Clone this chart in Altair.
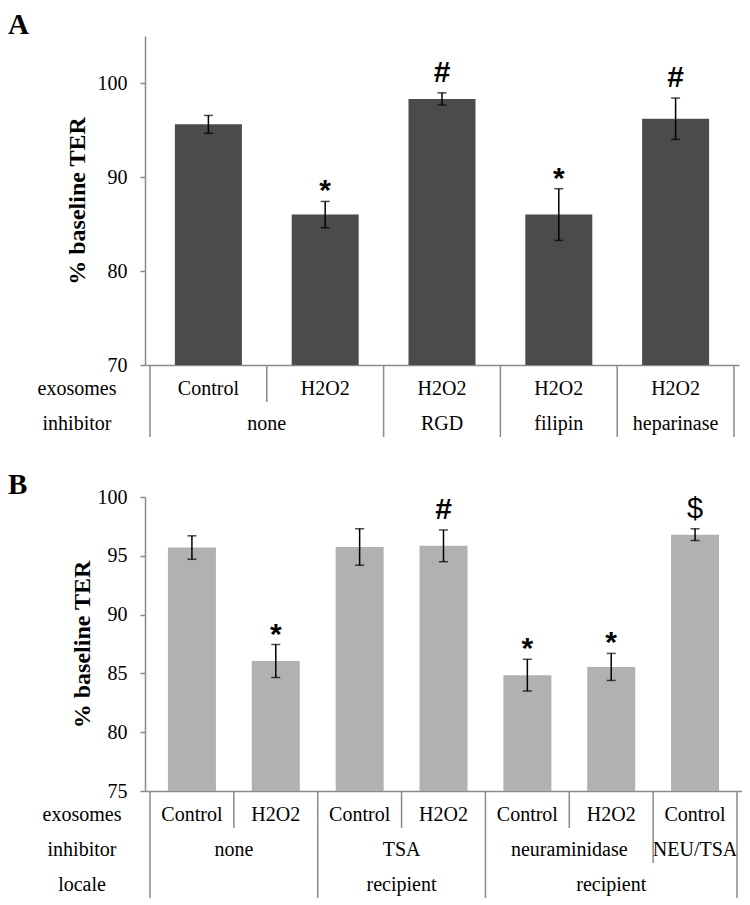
import altair as alt
import pandas as pd

# ---------------- Panel A data ----------------
a_exosomes = ["Control", "H2O2", "H2O2", "H2O2", "H2O2"]
a_ter = [95.6, 86.0, 98.3, 86.0, 96.2]
a_err = [0.95, 1.4, 0.65, 2.75, 2.2]
a_sig = ["", "*", "#", "*", "#"]
a_inhibitor = ["none", "RGD", "filipin", "heparinase"]
a_inhibitor_span = [2, 1, 1, 1]
a_yticks = [70, 80, 90, 100]

# ---------------- Panel B data ----------------
b_exosomes = ["Control", "H2O2", "Control", "H2O2", "Control", "H2O2", "Control"]
b_ter = [95.7, 86.05, 95.75, 95.85, 84.85, 85.55, 96.8]
b_err = [1.0, 1.4, 1.55, 1.35, 1.35, 1.15, 0.5]
b_sig = ["", "*", "", "#", "*", "*", "$"]
b_inhibitor = ["none", "TSA", "neuraminidase", "NEU/TSA"]
b_inhibitor_span = [2, 2, 2, 1]
b_locale = ["", "recipient", "recipient"]
b_locale_span = [2, 2, 3]
b_yticks = [75, 80, 85, 90, 95, 100]

SERIF = "Liberation Serif"
GRAY = "#8a8a8a"
ROW_H = 35
SYMBOL_STYLE = {
    "*": dict(fontSize=30, fontWeight="bold", dy=-1),
    "#": dict(fontSize=30, fontWeight="bold", dy=-11),
    "$": dict(fontSize=29, fontWeight="normal", dy=-11),
}


def panel(letter, exo, ter, err, sig, group_rows, row_names, ydom, yticks,
          width, height, bar_color, bar_size, title_x, label_x, letter_y):
    n = len(exo)
    main = pd.DataFrame({"idx": list(range(n)), "exosomes": exo, "ter": ter,
                         "err": err, "sig": sig})
    xscale = alt.Scale(domain=[-0.5, n - 0.5], nice=False, zero=False)
    yscale = alt.Scale(domain=ydom, nice=False, zero=False)
    xaxis = alt.Axis(labels=False, ticks=False, title=None, grid=False,
                     domainColor=GRAY, domainWidth=1.5)
    yaxis = alt.Axis(values=yticks, tickSize=5, tickColor=GRAY, tickWidth=1.5,
                     domainColor=GRAY, domainWidth=1.5, grid=False,
                     labelFont=SERIF, labelFontSize=20, labelColor="black",
                     labelPadding=13, title="% baseline TER",
                     titleFont=SERIF, titleFontSize=24, titleFontWeight="bold",
                     titleColor="black", titleAngle=270, titleAlign="center",
                     titleBaseline="middle", titleX=title_x, titleY=height / 2)

    def X(f):
        return alt.X(f, scale=xscale, axis=xaxis)

    def Y(f):
        return alt.Y(f, scale=yscale, axis=yaxis)

    base = alt.Chart(main).transform_calculate(
        lo="datum.ter - datum.err", hi="datum.ter + datum.err")

    bars = base.mark_bar(size=bar_size, color=bar_color).encode(
        x=X("idx:Q"), y=Y("ter:Q"), y2=alt.datum(ydom[0]))
    ebar = base.mark_rule(color="black", strokeWidth=1.5).encode(
        x=X("idx:Q"), y=Y("lo:Q"), y2="hi:Q")
    cap_hi = base.mark_tick(orient="horizontal", color="black", size=9, thickness=1.5).encode(
        x=X("idx:Q"), y=Y("hi:Q"))
    cap_lo = base.mark_tick(orient="horizontal", color="black", size=9, thickness=1.5).encode(
        x=X("idx:Q"), y=Y("lo:Q"))

    layers = [bars, ebar, cap_hi, cap_lo]
    for sym in sorted(set(s for s in sig if s)):
        st = SYMBOL_STYLE[sym]
        layers.append(base.transform_filter(alt.datum.sig == sym).mark_text(
            font="Liberation Sans", baseline="alphabetic", color="black", **st).encode(
            x=X("idx:Q"), y=Y("hi:Q"), text="sig:N"))

    # table: exosomes row
    layers.append(alt.Chart(main).mark_text(font=SERIF, fontSize=20, baseline="middle",
                                            color="black").encode(
        x=X("idx:Q"), y=alt.value(height + 24), text="exosomes:N"))

    # grouped rows + separator depths
    depth = [1] * (n + 1)
    depth[0] = 1 + len(group_rows)
    depth[n] = 1 + len(group_rows)
    for k, (labels, spans) in enumerate(group_rows, start=1):
        starts, s = [], 0
        for sp in spans:
            starts.append(s)
            s += sp
        centers = [st + (sp - 1) / 2 for st, sp in zip(starts, spans)]
        for st in starts[1:]:
            depth[st] += 1
        gdf = pd.DataFrame({"label": labels, "center": centers})
        layers.append(alt.Chart(gdf).mark_text(font=SERIF, fontSize=20, baseline="middle",
                                               color="black").encode(
            x=X("center:Q"), y=alt.value(height + 24 + ROW_H * k), text="label:N"))

    sep = pd.DataFrame({"pos": [b - 0.5 for b in range(n + 1)], "depth": depth})
    for d in sorted(set(depth)):
        layers.append(alt.Chart(sep).transform_filter(f"datum.depth == {d}").mark_rule(
            color=GRAY, strokeWidth=1.5).encode(
            x=X("pos:Q"), y=alt.value(height), y2=alt.value(height + ROW_H * d + 2)))

    # row names
    for k, name in enumerate(row_names):
        layers.append(alt.Chart(pd.DataFrame({"name": [name]})).mark_text(
            font=SERIF, fontSize=20, baseline="middle", align="center", color="black").encode(
            x=alt.value(label_x), y=alt.value(height + 24 + ROW_H * k), text="name:N"))

    # panel letter
    layers.append(alt.Chart(pd.DataFrame({"t": [letter]})).mark_text(
        font=SERIF, fontSize=29, fontWeight="bold", baseline="top", align="left",
        color="black").encode(x=alt.value(-137), y=alt.value(letter_y), text="t:N"))

    return alt.layer(*layers).properties(width=width, height=height)


chart_a = panel("A", a_exosomes, a_ter, a_err, a_sig,
                [(a_inhibitor, a_inhibitor_span)], ["exosomes", "inhibitor"],
                [70, 105], a_yticks, 594, 329, "#4b4b4b", 67, -68, -68, -25)
chart_b = panel("B", b_exosomes, b_ter, b_err, b_sig,
                [(b_inhibitor, b_inhibitor_span), (b_locale, b_locale_span)],
                ["exosomes", "inhibitor", "locale"],
                [75, 100], b_yticks, 597, 294, "#b1b1b1", 48, -63, -63, -26)

chart = alt.vconcat(chart_a, chart_b, spacing=33).properties(
    padding={"top": 3, "left": 0, "right": 0, "bottom": 0}).configure_view(stroke=None)

chart.save("out.html", embed_options={"renderer": "svg", "actions": False})
